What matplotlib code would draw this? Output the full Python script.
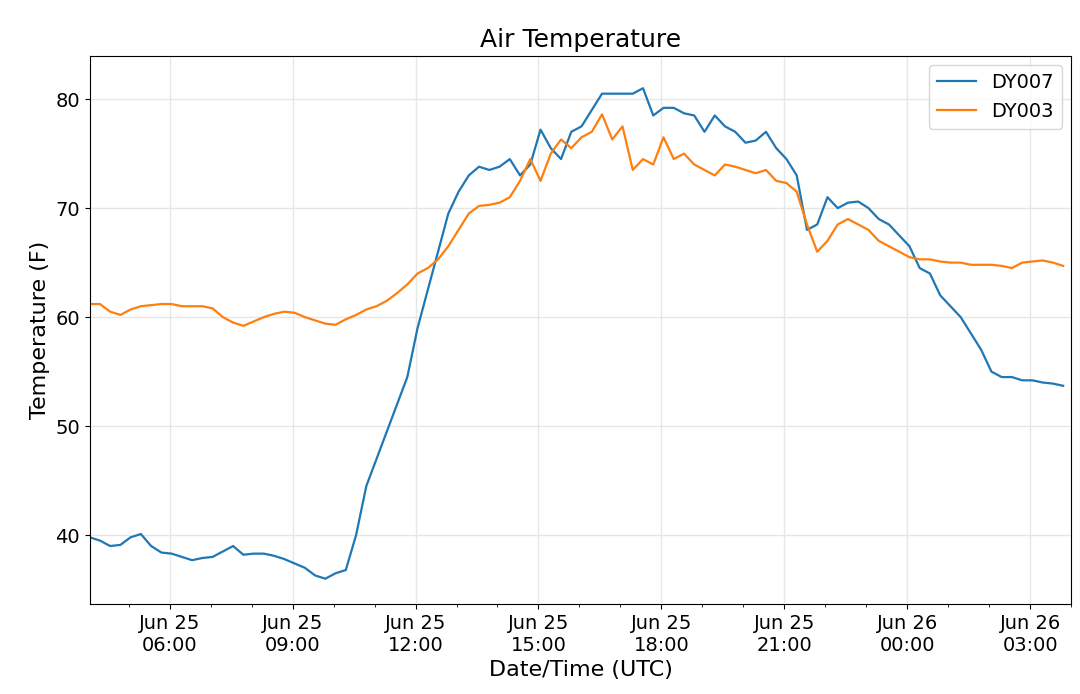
import numpy as np
import pandas as pd
import matplotlib
matplotlib.use("Agg")
import matplotlib.pyplot as plt
import matplotlib.dates as mdates

dy007 = [39.8, 39.5, 39.0, 39.1, 39.8, 40.1, 39.0, 38.4, 38.3, 38.0, 37.7, 37.9, 38.0, 38.5, 39.0, 38.2,
         38.3, 38.3, 38.1, 37.8, 37.4, 37.0, 36.3, 36.0, 36.5, 36.8, 40.0, 44.5, 47.0, 49.5, 52.0, 54.5,
         59.0, 62.5, 66.0, 69.5, 71.5, 73.0, 73.8, 73.5, 73.8, 74.5, 73.0, 74.0, 77.2, 75.5, 74.5, 77.0,
         77.5, 79.0, 80.5, 80.5, 80.5, 80.5, 81.0, 78.5, 79.2, 79.2, 78.7, 78.5, 77.0, 78.5, 77.5, 77.0,
         76.0, 76.2, 77.0, 75.5, 74.5, 73.0, 68.0, 68.5, 71.0, 70.0, 70.5, 70.6, 70.0, 69.0, 68.5, 67.5,
         66.5, 64.5, 64.0, 62.0, 61.0, 60.0, 58.5, 57.0, 55.0, 54.5, 54.5, 54.2, 54.2, 54.0, 53.9, 53.7]
dy003 = [61.2, 61.2, 60.5, 60.2, 60.7, 61.0, 61.1, 61.2, 61.2, 61.0, 61.0, 61.0, 60.8, 60.0, 59.5, 59.2,
         59.6, 60.0, 60.3, 60.5, 60.4, 60.0, 59.7, 59.4, 59.3, 59.8, 60.2, 60.7, 61.0, 61.5, 62.2, 63.0,
         64.0, 64.5, 65.3, 66.5, 68.0, 69.5, 70.2, 70.3, 70.5, 71.0, 72.5, 74.5, 72.5, 75.0, 76.3, 75.5,
         76.5, 77.0, 78.6, 76.3, 77.5, 73.5, 74.5, 74.0, 76.5, 74.5, 75.0, 74.0, 73.5, 73.0, 74.0, 73.8,
         73.5, 73.2, 73.5, 72.5, 72.3, 71.5, 68.5, 66.0, 67.0, 68.5, 69.0, 68.5, 68.0, 67.0, 66.5, 66.0,
         65.5, 65.3, 65.3, 65.1, 65.0, 65.0, 64.8, 64.8, 64.8, 64.7, 64.5, 65.0, 65.1, 65.2, 65.0, 64.7]

times = pd.date_range("2019-06-25 04:03", periods=len(dy007), freq="15min")

fig, ax = plt.subplots(figsize=(10.8, 6.94), dpi=100)
ax.plot(times, dy007, color="#1f77b4", lw=1.6, label="DY007")
ax.plot(times, dy003, color="#ff7f0e", lw=1.6, label="DY003")
ax.set_xlim(times[0], pd.Timestamp("2019-06-26 04:00"))
ax.set_ylim(33.7, 84)
ax.xaxis.set_major_locator(mdates.HourLocator(byhour=range(0, 24, 3)))
ax.xaxis.set_major_formatter(mdates.DateFormatter("%b %d\n%H:%M"))
ax.xaxis.set_minor_locator(mdates.HourLocator())
ax.grid(True, color="#e6e6e6", lw=1)
ax.tick_params(labelsize=14)
ax.set_title("Air Temperature", fontsize=18)
ax.set_xlabel("Date/Time (UTC)", fontsize=16)
ax.set_ylabel("Temperature (F)", fontsize=16)
ax.legend(fontsize=14)
fig.subplots_adjust(left=0.083, right=0.992, top=0.92, bottom=0.13)
fig.savefig("out.png")
